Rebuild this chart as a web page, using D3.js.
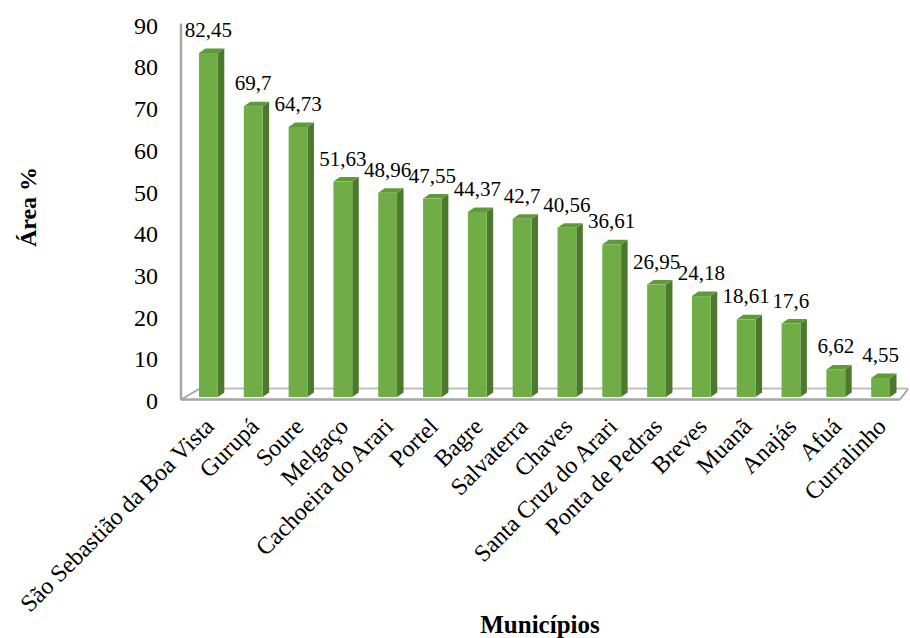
<!DOCTYPE html>
<html>
<head>
<meta charset="utf-8">
<script src="https://cdn.jsdelivr.net/npm/d3@7/dist/d3.min.js"></script>
<style>
  html, body { margin: 0; padding: 0; background: #fff; }
  text { font-family: "Liberation Serif", "Times New Roman", serif; fill: #000; }
</style>
</head>
<body>
<svg id="chart" width="910" height="638"></svg>
<script>
const categories = ["São Sebastião da Boa Vista", "Gurupá", "Soure", "Melgaço", "Cachoeira do Arari",
  "Portel", "Bagre", "Salvaterra", "Chaves", "Santa Cruz do Arari", "Ponta de Pedras",
  "Breves", "Muanã", "Anajás", "Afuá", "Curralinho"];
const values = [82.45, 69.7, 64.73, 51.63, 48.96, 47.55, 44.37, 42.7, 40.56, 36.61, 26.95, 24.18, 18.61, 17.6, 6.62, 4.55];
const valueLabels = ["82,45", "69,7", "64,73", "51,63", "48,96", "47,55", "44,37", "42,7", "40,56", "36,61", "26,95", "24,18", "18,61", "17,6", "6,62", "4,55"];
const yTicks = [0, 10, 20, 30, 40, 50, 60, 70, 80, 90];
const yTitle = "Área %";
const xTitle = "Municípios";

const svg = d3.select("#chart");

const x = d3.scaleBand().domain(categories).range([186, 903]).paddingInner(0.58).paddingOuter(0.29);
const y = d3.scaleLinear().domain([0, 90]).range([397, 21.5]);

const depthX = 6.5, depthY = 4.5;

// wall & floor
const g0 = svg.append("g");
g0.append("line").attr("x1", 181).attr("x2", 181).attr("y1", y(90) + 2).attr("y2", 400)
  .attr("stroke", "#a6a6a6").attr("stroke-width", 2.5);
g0.append("line").attr("x1", 200).attr("x2", 908).attr("y1", 388.5).attr("y2", 388.5)
  .attr("stroke", "#bfbfbf").attr("stroke-width", 2);
g0.append("line").attr("x1", 181).attr("x2", 200).attr("y1", 399.5).attr("y2", 388.5)
  .attr("stroke", "#a6a6a6").attr("stroke-width", 2);
g0.append("line").attr("x1", 900).attr("x2", 908).attr("y1", 399.5).attr("y2", 389)
  .attr("stroke", "#a6a6a6").attr("stroke-width", 2);

// bars
const bars = svg.append("g").selectAll("g").data(categories).join("g");
bars.each(function(c, i) {
  const g = d3.select(this);
  const x0 = x(c), w = x.bandwidth();
  const yt = y(values[i]), yb = y(0);
  g.append("path").attr("d",
    `M${x0 + w},${yt} L${x0 + w + depthX},${yt - depthY} L${x0 + w + depthX},${yb - depthY} L${x0 + w},${yb} Z`)
    .attr("fill", "#4b7a2c");
  g.append("path").attr("d",
    `M${x0},${yt} L${x0 + depthX},${yt - depthY} L${x0 + w + depthX},${yt - depthY} L${x0 + w},${yt} Z`)
    .attr("fill", "#5f9a38");
  g.append("rect").attr("x", x0).attr("y", yt).attr("width", w).attr("height", yb - yt)
    .attr("fill", "#70ad47");
});

svg.append("line").attr("x1", 181).attr("x2", 900).attr("y1", 399.5).attr("y2", 399.5)
  .attr("stroke", "#a6a6a6").attr("stroke-width", 2.5);

// value labels
svg.append("g").selectAll("text").data(categories).join("text")
  .attr("x", c => x(c) + x.bandwidth() / 2)
  .attr("y", (c, i) => y(values[i]) - 16)
  .attr("text-anchor", "middle")
  .style("font-size", "21px")
  .text((c, i) => valueLabels[i]);

// y axis tick labels
const yAxis = d3.axisLeft(y).tickValues(yTicks).tickSize(0).tickPadding(0).tickFormat(d3.format("d"));
const ya = svg.append("g").attr("transform", "translate(158,4)").call(yAxis);
ya.select(".domain").remove();
ya.selectAll("text").style("font-size", "24px").style("font-family", "Liberation Serif, serif").attr("fill", "#000");

// x axis category labels
const xAxis = d3.axisBottom(x).tickSize(0).tickPadding(0);
const xa = svg.append("g").call(xAxis);
xa.select(".domain").remove();
xa.selectAll(".tick").attr("transform", d => `translate(${x(d) + x.bandwidth() / 2 + 7},428)`);
xa.selectAll("text")
  .attr("x", 0).attr("y", 0).attr("dy", 0)
  .attr("transform", "rotate(-45)")
  .attr("text-anchor", "end")
  .style("font-size", "24px")
  .style("font-family", "Liberation Serif, serif")
  .attr("fill", "#000");

// titles
svg.append("text").attr("transform", "translate(36,207) rotate(-90)")
  .attr("text-anchor", "middle").style("font-size", "24px").style("font-weight", "bold").text(yTitle);
svg.append("text").attr("x", 540).attr("y", 633)
  .attr("text-anchor", "middle").style("font-size", "25px").style("font-weight", "bold").text(xTitle);
</script>
</body>
</html>
